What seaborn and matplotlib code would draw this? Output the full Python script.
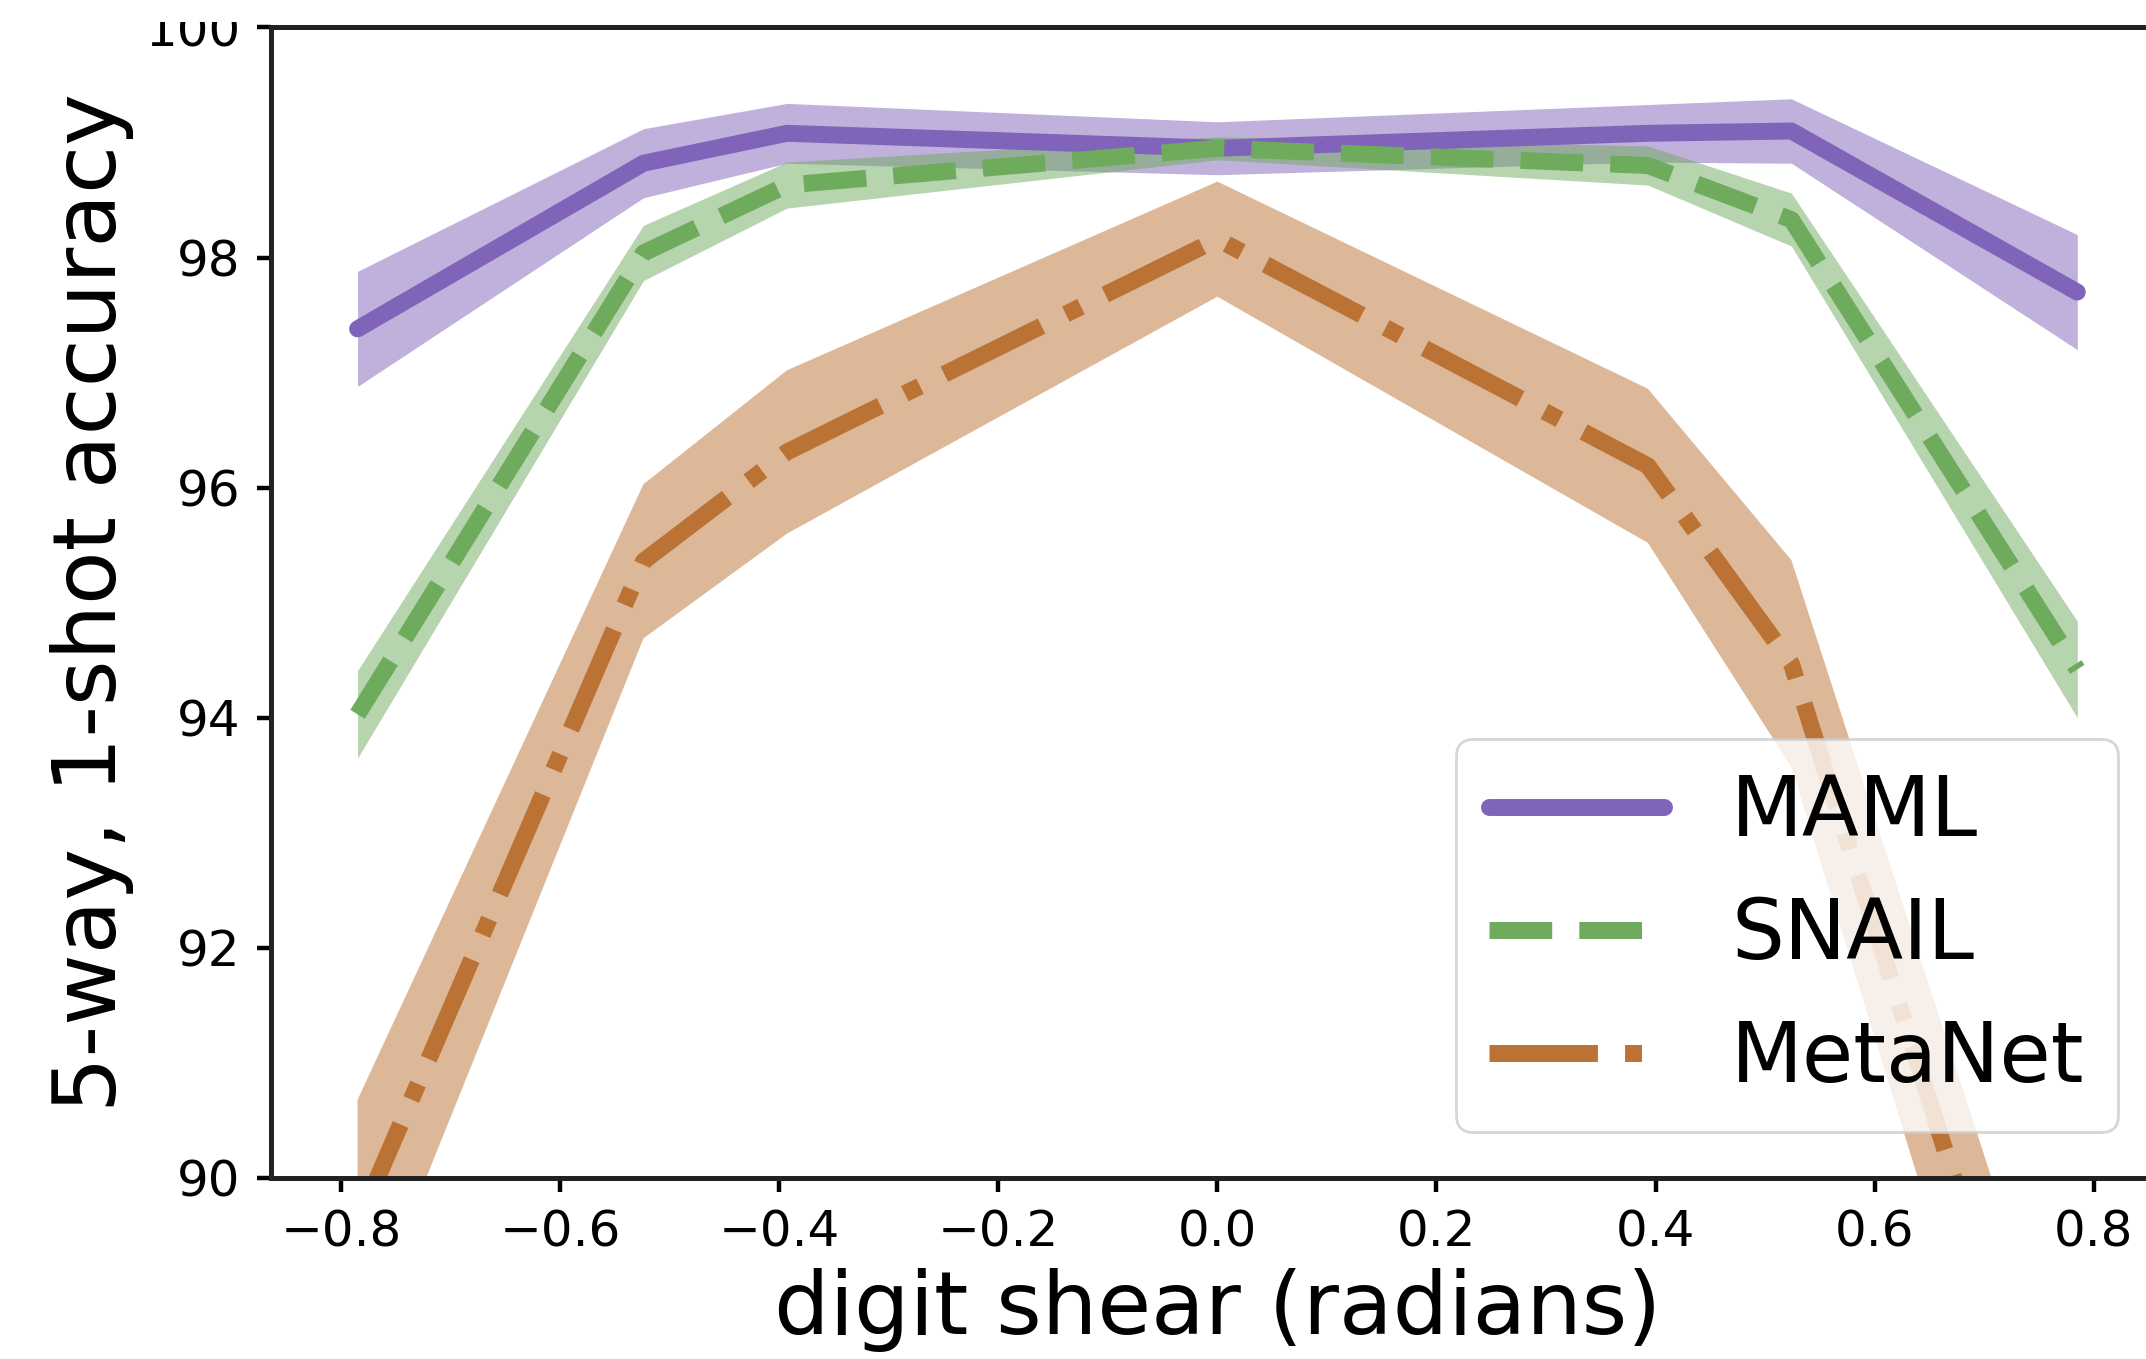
import numpy as np
import pandas as pd
import matplotlib
matplotlib.use("Agg")
import matplotlib.pyplot as plt
from matplotlib.transforms import Bbox, TransformedBbox
import seaborn as sns

# shear angles: -pi/4, -pi/6, -pi/8, 0, pi/8, pi/6, pi/4
shear = [-0.785, -0.524, -0.393, 0.0, 0.393, 0.524, 0.785]

maml = [97.38, 98.82, 99.08, 98.95, 99.08, 99.10, 97.70]
maml_err = [0.50, 0.30, 0.26, 0.23, 0.25, 0.28, 0.50]

snail = [94.03, 98.04, 98.63, 98.95, 98.80, 98.33, 94.42]
snail_err = [0.38, 0.24, 0.20, 0.10, 0.17, 0.23, 0.42]

metanet = [89.60, 95.36, 96.31, 98.16, 96.19, 94.47, 86.60]
metanet_err = [1.08, 0.67, 0.71, 0.50, 0.67, 0.90, 1.10]

names = ["MAML", "SNAIL", "MetaNet"]
colors = ["#8064b9", "#6fab5c", "#bb7335"]
styles = ["-", "--", "-."]

sns.set_style("ticks")
plt.rcParams["font.family"] = ["DejaVu Sans"]
plt.rcParams["text.color"] = "black"
plt.rcParams["xtick.color"] = "black"
plt.rcParams["ytick.color"] = "black"
plt.rcParams["axes.labelcolor"] = "black"
plt.rcParams["axes.edgecolor"] = "#222222"

fig = plt.figure(figsize=(10.73, 6.795), dpi=200)
ax = fig.add_axes([0.1263, 0.1332, 0.882, 0.8466])

series = [(maml, maml_err), (snail, snail_err), (metanet, metanet_err)]
for (m, e), name, c, ls in zip(series, names, colors, styles):
    m = np.array(m)
    e = np.array(e)
    df = pd.DataFrame({"shear": shear, "acc": m})
    sns.lineplot(data=df, x="shear", y="acc", color=c, lw=6.1,
                 linestyle=ls, label=name, ax=ax)
    ax.fill_between(shear, m - e, m + e, color=c, alpha=0.5, lw=0)

ax.set_ylim(90, 100)
ax.set_xlim(-0.864, 0.864)
ax.set_yticks(np.arange(90, 101, 2))
ax.set_xticks(np.arange(-0.8, 0.81, 0.2))
ax.tick_params(labelsize=18, length=5, width=1.6, pad=6)
for sp in ax.spines.values():
    sp.set_linewidth(1.8)

ax.set_xlabel("digit shear (radians)", fontsize=31.5)
ax.set_ylabel("5-way, 1-shot accuracy", fontsize=31.5)

ax.legend(loc="lower right", fontsize=30, handlelength=2.1,
          labelspacing=0.5, handletextpad=0.8, borderaxespad=0.55)

# the top of the "100" label is cut off in the original
clip = TransformedBbox(Bbox([[0, 0], [1, 1 - 22 / 1359]]), fig.transFigure)
top_lbl = ax.get_yticklabels()[-1]
top_lbl.set_clip_box(clip)
top_lbl.set_clip_on(True)

fig.savefig("out.png", dpi=200)
